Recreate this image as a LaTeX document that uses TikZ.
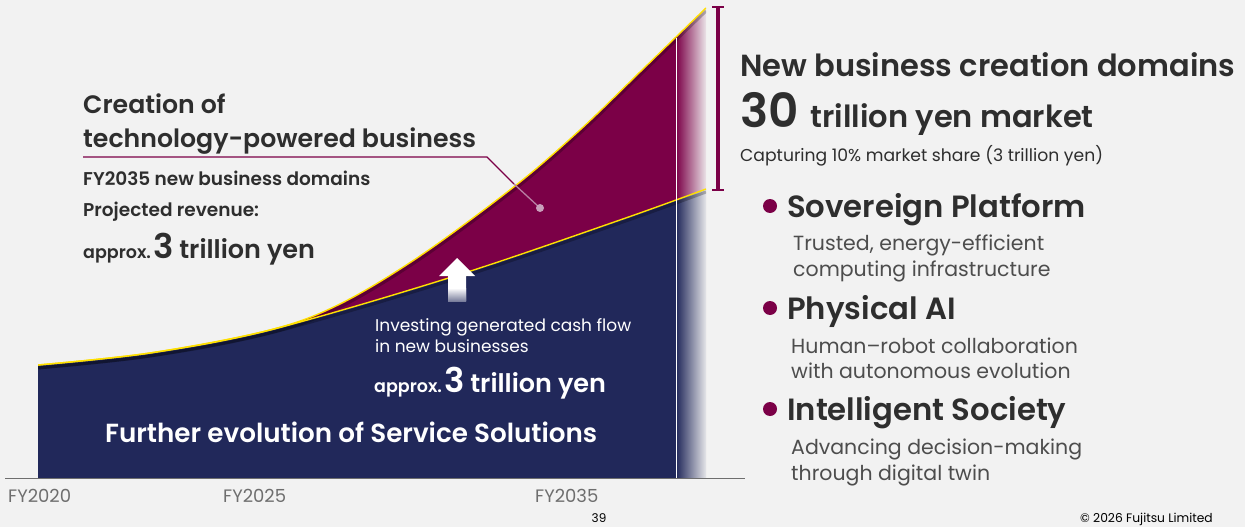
\documentclass[tikz,border=0pt]{standalone}
\usepackage{fontspec}
\setmainfont{Poppins}[BoldFont={Poppins SemiBold}]
\definecolor{bg}{HTML}{F2F2F2}
\definecolor{navy}{HTML}{21285A}
\definecolor{mag}{HTML}{7B0047}
\definecolor{ylw}{HTML}{FFE000}
\definecolor{txt}{HTML}{2E2E2E}
\definecolor{axisgray}{HTML}{6E6E6E}
\definecolor{pinkdot}{HTML}{C9A0BB}
\tikzset{
  lbl/.style={anchor=base west, inner sep=0pt, text=txt},
  wlbl/.style={anchor=base west, inner sep=0pt, text=white},
  axlbl/.style={anchor=base west, inner sep=0pt, text=axisgray, font=\fontsize{18}{20}\selectfont},
  head/.style={lbl, font=\bfseries\fontsize{30.7}{34}\selectfont},
  sub/.style={lbl, text=txt!85, font=\fontsize{20.5}{24}\selectfont},
  bulletdot/.style={circle, fill=mag, inner sep=0pt, minimum size=14pt},
  ycurve/.style={ylw, line width=1.4pt},
  shadowline/.style={black, opacity=0.25, line width=3pt}
}
\begin{document}
\begin{tikzpicture}[x=1pt,y=-1pt]
\useasboundingbox (0,0) rectangle (1245,527);
\fill[bg] (0,0) rectangle (1245,527);

% main areas
\begin{scope}
\clip (38,0) rectangle (676,478);
\fill[mag] (38,478) -- plot[smooth,tension=0.55] coordinates {(38,365)(150,353)(270,330)(340,304)(420,256)(515,186)(580,130)(640,72)(676,37)(706,8)} -- (706,478) -- cycle;
\fill[navy] (38,478) -- plot[smooth,tension=0.55] coordinates {(38,365)(150,353)(270,330)(455,276)(620,220)(706,189)} -- (706,478) -- cycle;
\end{scope}

% fade region
\begin{scope}
\clip (676,0) rectangle (708,478);
\begin{scope}
\clip (38,478) -- plot[smooth,tension=0.55] coordinates {(38,365)(150,353)(270,330)(340,304)(420,256)(515,186)(580,130)(640,72)(676,37)(706,8)} -- (706,478) -- cycle;
\shade[left color=mag, right color=bg] (676,0) rectangle (708,478);
\end{scope}
\begin{scope}
\clip (38,478) -- plot[smooth,tension=0.55] coordinates {(38,365)(150,353)(270,330)(455,276)(620,220)(706,189)} -- (706,478) -- cycle;
\shade[left color=navy, right color=bg] (676,0) rectangle (708,478);
\end{scope}
\end{scope}

% shadows and yellow edges
\begin{scope}
\clip (38,0) rectangle (706,478);
\begin{scope}[yshift=-3pt]
\draw[shadowline] plot[smooth,tension=0.55] coordinates {(38,365)(150,353)(270,330)(340,304)(420,256)(515,186)(580,130)(640,72)(676,37)(706,8)};
\draw[shadowline] plot[smooth,tension=0.55] coordinates {(38,365)(150,353)(270,330)(455,276)(620,220)(706,189)};
\end{scope}
\draw[ycurve] plot[smooth,tension=0.55] coordinates {(38,365)(150,353)(270,330)(340,304)(420,256)(515,186)(580,130)(640,72)(676,37)(706,8)};
\draw[ycurve] plot[smooth,tension=0.55] coordinates {(38,365)(150,353)(270,330)(455,276)(620,220)(706,189)};
\end{scope}

% white separator line
\coordinate (sepTop) at (676,38);
\coordinate (sepBot) at (676,478);
\draw[white, line width=1pt] (sepTop) -- (sepBot);

% axis
\coordinate (axL) at (5,478);
\coordinate (axR) at (745,478);
\draw[axisgray, line width=1pt] (axL) -- (axR);
\node[axlbl] (fy20) at (8,502) {FY2020};
\node[axlbl] (fy25) at (223,502) {FY2025};
\node[axlbl] (fy35) at (535,502) {FY2035};
\node[anchor=base, inner sep=0pt, font=\fontsize{12}{14}\selectfont] (page) at (599,522) {39};
\node[anchor=base east, inner sep=0pt, font=\fontsize{12.3}{14}\selectfont] (copy) at (1213,522) {© 2026 Fujitsu Limited};

% up arrow
\fill[white] (448,301) -- (448,276) -- (439,276) -- (457,258) -- (475,276) -- (466,276) -- (466,301) -- cycle;
\shade[top color=white, bottom color=navy!60] (448,288) rectangle (466,301);

% callout
\coordinate (ca) at (83,157);
\coordinate (cb) at (487,157);
\coordinate (cx) at (514,184);
\coordinate (cd) at (540,208);
\draw[mag, line width=1.3pt] (ca) -- (cb) -- (cx);
\draw[pinkdot!80!mag, line width=1.3pt] (cx) -- (cd);
\node[circle, fill=pinkdot, inner sep=0pt, minimum size=8pt] (dot) at (cd) {};

% left texts
\node[lbl, font=\bfseries\fontsize{25.2}{28}\selectfont] (t1) at (83,113) {Creation of};
\node[lbl, font=\bfseries\fontsize{25.2}{28}\selectfont] (t2) at (83,147) {technology-powered business};
\node[lbl, font=\bfseries\fontsize{18.5}{20}\selectfont] (t3) at (83,185) {FY2035 new business domains};
\node[lbl, font=\bfseries\fontsize{18.5}{20}\selectfont] (t4) at (83,216) {Projected revenue:};
\node[lbl, font=\bfseries] (t5) at (83,258) {\fontsize{17.5}{18}\selectfont approx.\,{\fontsize{34}{34}\selectfont 3}\hspace{5pt}{\fontsize{25.5}{26}\selectfont trillion yen}};

\node[wlbl, font=\fontsize{17}{18}\selectfont] (i1) at (375,331) {Investing generated cash flow};
\node[wlbl, font=\fontsize{17}{18}\selectfont] (i2) at (375,352) {in new businesses};
\node[wlbl, font=\bfseries] (i3) at (374,392) {\fontsize{17.5}{18}\selectfont approx.\,{\fontsize{34}{34}\selectfont 3}\hspace{5pt}{\fontsize{25.5}{26}\selectfont trillion yen}};
\node[wlbl, font=\bfseries\fontsize{26.2}{28}\selectfont] (fe) at (105,442) {Further evolution of Service Solutions};

% right bar
\coordinate (barT) at (718,7);
\coordinate (barB) at (718,190);
\draw[mag, line width=4pt] (barT) -- (barB);
\draw[mag, line width=2pt] ([xshift=-6pt]barT) -- ([xshift=6pt]barT);
\draw[mag, line width=2pt] ([xshift=-6pt]barB) -- ([xshift=6pt]barB);

% right texts
\node[lbl, font=\bfseries\fontsize{30.5}{34}\selectfont] (r1) at (740,77) {New business creation domains};
\node[lbl, font=\bfseries] (r2) at (740,127) {{\fontsize{47}{50}\selectfont 30}\hspace{12pt}{\fontsize{30.5}{34}\selectfont trillion yen market}};
\node[lbl, font=\fontsize{17.2}{18}\selectfont] (r3) at (740,161) {Capturing 10\% market share (3 trillion yen)};

\node[bulletdot] (b1) at (770,206) {};
\node[head] (s1) at (787,217) {Sovereign Platform};
\node[sub] (s1a) at (793,250) {Trusted, energy-efficient};
\node[sub] (s1b) at (793,276) {computing infrastructure};

\node[bulletdot] (b2) at (770,308) {};
\node[head] (s2) at (787,319) {Physical AI};
\node[sub] (s2a) at (791,353) {Human–robot collaboration};
\node[sub] (s2b) at (791,378) {with autonomous evolution};

\node[bulletdot] (b3) at (770,409) {};
\node[head] (s3) at (787,420) {Intelligent Society};
\node[sub] (s3a) at (791,454) {Advancing decision-making};
\node[sub] (s3b) at (791,480) {through digital twin};
\end{tikzpicture}
\end{document}
